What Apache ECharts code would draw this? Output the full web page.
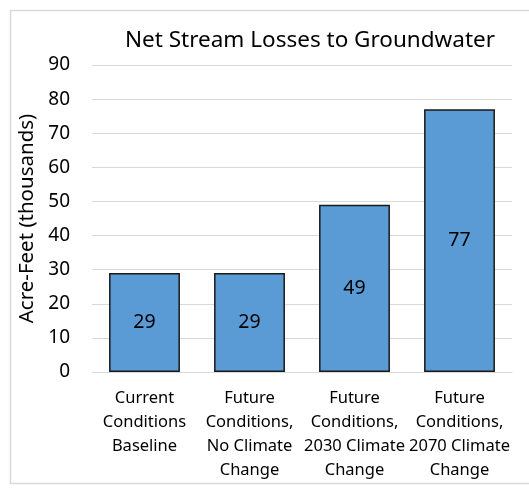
<!DOCTYPE html>
<html><head><meta charset="utf-8">
<script src="https://cdn.jsdelivr.net/npm/echarts@6/dist/echarts.min.js"></script>
<style>html,body{margin:0;padding:0;background:#fff}#c{width:529px;height:490px}</style>
</head><body><div id="c"></div>
<script>
const categories = ["Current\nConditions\nBaseline", "Future\nConditions,\nNo Climate\nChange", "Future\nConditions,\n2030 Climate\nChange", "Future\nConditions,\n2070 Climate\nChange"];
const values = [29, 29, 49, 77];
const titleText = "Net Stream Losses to Groundwater";
const yAxisName = "Acre-Feet (thousands)";
const yMin = 0, yMax = 90, yInterval = 10;

const FONT = "Noto Sans";
const chart = echarts.init(document.getElementById('c'), null, {renderer: 'canvas'});
chart.setOption({
  animation: false,
  textStyle: {fontFamily: FONT, color: '#000'},
  graphic: [{
    type: 'rect', shape: {x: 10.5, y: 10.5, width: 530, height: 473},
    style: {fill: 'none', stroke: '#d9d9d9', lineWidth: 1.5}, silent: true, z: -1
  }],
  title: {
    text: titleText, left: 305, top: 24, textAlign: 'center',
    textStyle: {fontFamily: FONT, fontSize: 22.5, fontWeight: 'normal', color: '#000'}
  },
  grid: {left: 92, right: 17, top: 65, bottom: 118, containLabel: false},
  xAxis: {
    type: 'category', data: categories,
    axisLine: {show: true, lineStyle: {color: '#d9d9d9', width: 1}},
    axisTick: {show: false},
    axisLabel: {interval: 0, fontFamily: FONT, fontSize: 16.5, color: '#000', lineHeight: 24, margin: 14}
  },
  yAxis: {
    type: 'value', min: yMin, max: yMax, interval: yInterval,
    name: yAxisName, nameLocation: 'middle', nameGap: 52,
    nameTextStyle: {fontFamily: FONT, fontSize: 20.5, color: '#000'},
    axisLine: {show: false}, axisTick: {show: false},
    axisLabel: {fontFamily: FONT, fontSize: 19, color: '#000', margin: 22},
    splitLine: {lineStyle: {color: '#d9d9d9', width: 1}}
  },
  series: [{
    type: 'bar', data: values, barWidth: '67.5%',
    itemStyle: {color: '#5B9BD5', borderColor: '#1a1a1a', borderWidth: 1.5},
    label: {show: true, position: 'inside', fontFamily: FONT, fontSize: 19.5, color: '#000'}
  }]
});
</script></body></html>
